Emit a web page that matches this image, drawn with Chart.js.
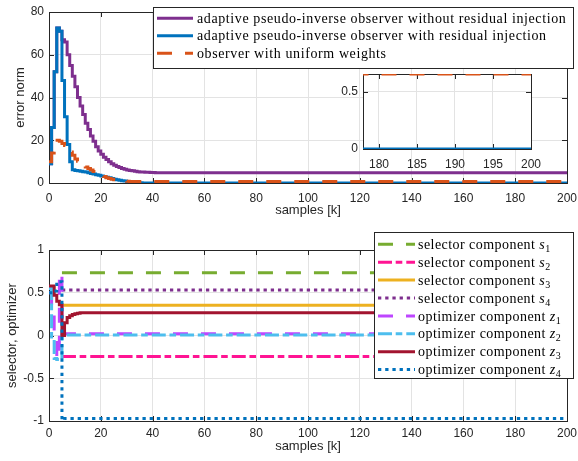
<!DOCTYPE html>
<html>
<head>
<meta charset="utf-8">
<script src="https://cdn.jsdelivr.net/npm/chart.js@4.4.0/dist/chart.umd.min.js"></script>
<style>
  body { margin: 0; background: #fff; }
  #wrap { position: relative; width: 578px; height: 461px; }
  canvas { position: absolute; }
</style>
</head>
<body>
<div id="wrap">
  <canvas id="errChart" width="578" height="230" style="left:0;top:0"></canvas>
  <canvas id="zoomChart" width="230" height="120" style="left:320px;top:60px"></canvas>
  <canvas id="selChart" width="578" height="231" style="left:0;top:230px"></canvas>
</div>
<script>
const kMax = 200;

// top plot: error norm per sample k (last value is held up to k = 200)
const topNames = [
  'adaptive pseudo-inverse observer without residual injection',
  'adaptive pseudo-inverse observer with residual injection',
  'observer with uniform weights'
];
const errNoInjection = [9, 26, 52, 72.5, 71, 67, 66, 60, 55, 50, 45, 40, 36, 32, 28, 25, 22, 19.5, 17, 15,
  13.5, 12, 11, 10, 9, 8.3, 7.7, 7.2, 6.8, 6.4, 6.1, 5.9, 5.7, 5.5, 5.3, 5.2, 5.1, 5.0, 5.0, 4.9, 4.9, 4.8];
const errInjection = [9, 26, 52, 72.5, 71, 48, 31, 18, 10, 6.2, 5.9, 5.7, 5.5, 5.3, 5.1, 4.8, 4.5, 4.2, 3.9, 3.6,
  3.3, 3.0, 2.7, 2.4, 2.1, 1.8, 1.5, 1.3, 1.1, 0.9, 0.7, 0.55, 0.4, 0.3, 0.2, 0.1, 0.05, 0];
const errUniform = [10, 14, 20, 20, 19.5, 18.5, 17.5, 16, 14.5, 13, 11.2, 10.2, 9.2, 8.3, 7.5, 6.8, 6.1, 5.4, 4.8, 4.2,
  3.6, 3.0, 2.5, 2.1, 1.8, 1.5, 1.3, 1.1, 0.95, 0.85, 0.78, 0.72, 0.68, 0.655];

// bottom plot: selector and optimizer components
const botNames = ['selector component', 'selector component', 'selector component', 'selector component',
  'optimizer component', 'optimizer component', 'optimizer component', 'optimizer component'];
const botSymbols = ['s', 's', 's', 's', 'z', 'z', 'z', 'z'];
const botSubs = ['1', '2', '3', '4', '1', '2', '3', '4'];
const s1 = [null, null, null, null, null, 0.735];
const s2 = [null, null, null, null, null, -0.245];
const s3 = [null, null, null, null, null, 0.353];
const s4 = [null, null, null, null, null, 0.532];
const z1 = [0.5, 0.3, -0.05, -0.27, 0.73, 0.02];
const z2 = [0.55, -0.05, -0.27, -0.28, -0.28, 0.005];
const z3 = [0.58, 0.58, 0.47, 0.4, 0.36, 0.0, 0.15, 0.21, 0.23, 0.245, 0.255, 0.26, 0.265, 0.267];
const z4 = [0.5, 0.5, 0.52, 0.6, 0.63, -0.99, -0.97];

const ink = '#262626';
const gridCol = '#E3E3E3';
const tickFont = { family: 'Liberation Sans', size: 12 };
const titleFont = { family: 'Liberation Sans', size: 13 };
const dashed = [15, 13];
const dashDot = [14, 3.7, 6.6, 4];
const dotted = [3.3, 3.9];

function toPoints(vals) {
  const pts = [];
  vals.forEach((v, k) => { if (v !== null) pts.push({ x: k, y: v }); });
  pts.push({ x: kMax, y: vals[vals.length - 1] });
  return pts;
}

function series(label, vals, color, dash, order, sym, sub) {
  return {
    label, data: toPoints(vals), borderColor: color, borderDash: dash, borderWidth: 3,
    stepped: true, pointRadius: 0, fill: false, borderCapStyle: 'butt', order, sym, sub
  };
}

// box round the plot area with inward ticks on all four sides
const frame = {
  id: 'frame',
  beforeDatasetsDraw(chart) {
    const { ctx, chartArea: a, scales: { x, y } } = chart;
    ctx.save();
    ctx.strokeStyle = ink;
    ctx.lineWidth = 1;
    ctx.beginPath();
    x.ticks.forEach(t => {
      const px = Math.round(x.getPixelForValue(t.value)) + 0.5;
      ctx.moveTo(px, a.bottom); ctx.lineTo(px, a.bottom - 5);
      ctx.moveTo(px, a.top); ctx.lineTo(px, a.top + 5);
    });
    y.ticks.forEach(t => {
      const py = Math.round(y.getPixelForValue(t.value)) + 0.5;
      ctx.moveTo(a.left, py); ctx.lineTo(a.left + 5, py);
      ctx.moveTo(a.right, py); ctx.lineTo(a.right - 5, py);
    });
    ctx.stroke();
    ctx.strokeRect(Math.round(a.left) + 0.5, Math.round(a.top) + 0.5, Math.round(a.width), Math.round(a.height));
    ctx.restore();
  }
};

const whiteArea = {
  id: 'whiteArea',
  beforeDraw(chart) {
    const { ctx, chartArea: a } = chart;
    ctx.save();
    ctx.fillStyle = '#fff';
    ctx.fillRect(a.left, a.top, a.width, a.height);
    ctx.restore();
  }
};

const lineLegend = {
  id: 'lineLegend',
  afterDraw(chart, args, o) {
    if (!o.w) return;
    const ctx = chart.ctx;
    ctx.save();
    ctx.fillStyle = '#fff';
    ctx.fillRect(o.x, o.y, o.w, o.h);
    ctx.strokeStyle = ink;
    ctx.lineWidth = 1;
    ctx.strokeRect(o.x + 0.5, o.y + 0.5, o.w, o.h);
    chart.data.datasets.forEach((ds, i) => {
      const y = o.y + o.first + i * o.step;
      ctx.setLineDash(ds.borderDash);
      ctx.lineCap = 'butt';
      ctx.lineWidth = ds.borderWidth;
      ctx.strokeStyle = ds.borderColor;
      ctx.beginPath();
      ctx.moveTo(o.x0, y); ctx.lineTo(o.x1, y);
      ctx.stroke();
      ctx.setLineDash([]);
      ctx.fillStyle = '#000';
      ctx.textBaseline = 'middle';
      ctx.letterSpacing = o.spacing;
      ctx.font = '14px "Liberation Serif"';
      ctx.fillText(ds.label, o.tx, y + 1);
      if (ds.sym) {
        let tx = o.tx + ctx.measureText(ds.label + ' ').width;
        ctx.letterSpacing = '0px';
        ctx.font = 'italic 14px "Liberation Serif"';
        ctx.fillText(ds.sym, tx, y + 1);
        tx += ctx.measureText(ds.sym).width + 0.5;
        ctx.font = '10px "Liberation Serif"';
        ctx.fillText(ds.sub, tx, y + 5);
      }
    });
    ctx.restore();
  }
};

function axisX(min, max, step, height, tickPad, title, titlePad) {
  return {
    type: 'linear', min, max,
    ticks: { stepSize: step, padding: tickPad, maxRotation: 0, includeBounds: false, font: tickFont, color: ink,
      callback: v => String(v) },
    grid: { color: gridCol, drawTicks: false },
    border: { display: false },
    title: { display: !!title, text: title, font: titleFont, color: ink, padding: { top: 0, bottom: titlePad } },
    afterFit: s => { s.height = height; s.paddingLeft = 0; s.paddingRight = 0; }
  };
}

function axisY(min, max, step, width, title, titlePad) {
  return {
    type: 'linear', min, max,
    ticks: { stepSize: step, padding: 5, includeBounds: false, font: tickFont, color: ink,
      callback: v => String(v) },
    grid: { color: gridCol, drawTicks: false },
    border: { display: false },
    title: { display: !!title, text: title, font: titleFont, color: ink, padding: { top: titlePad, bottom: 0 } },
    afterFit: s => { s.width = width; s.paddingTop = 0; s.paddingBottom = 0; }
  };
}

function topSets() {
  return [
    series(topNames[0], errNoInjection, '#7E2F8E', [], 3),
    series(topNames[1], errInjection, '#0072BD', [], 2),
    series(topNames[2], errUniform, '#D95319', dashed, 1)
  ];
}

new Chart(document.getElementById('errChart'), {
  type: 'line',
  data: { datasets: topSets() },
  options: {
    responsive: false, animation: false,
    layout: { padding: { left: 0, right: 11, top: 12, bottom: 0 } },
    scales: {
      x: axisX(0, kMax, 20, 47, 8, 'samples [k]', 12),
      y: axisY(0, 80, 20, 49, 'error norm', 13)
    },
    plugins: {
      legend: { display: false }, tooltip: { enabled: false },
      lineLegend: { x: 153, y: 7, w: 420, h: 61, first: 11.3, step: 17.5, x0: 157, x1: 193, tx: 197, spacing: '0.6px' }
    }
  },
  plugins: [frame, lineLegend]
});

new Chart(document.getElementById('zoomChart'), {
  type: 'line',
  data: { datasets: topSets() },
  options: {
    responsive: false, animation: false,
    layout: { padding: { left: 0, right: 19, top: 14, bottom: 0 } },
    scales: {
      x: axisX(177.9, kMax, 5, 31, 8, '', 0),
      y: axisY(0, 0.655, 0.5, 43, '', 0)
    },
    plugins: { legend: { display: false }, tooltip: { enabled: false } }
  },
  plugins: [whiteArea, frame]
});

const botColors = ['#77AC30', '#FF1493', '#EDB120', '#7E2F8E', '#BE46FF', '#4DBEEE', '#A2142F', '#0072BD'];
const botDashes = [dashed, dashDot, [], dotted, dashed, dashDot, [], dotted];
const botVals = [s1, s2, s3, s4, z1, z2, z3, z4];

new Chart(document.getElementById('selChart'), {
  type: 'line',
  data: {
    datasets: botVals.map((v, i) => series(botNames[i], v, botColors[i], botDashes[i], 8 - i, botSymbols[i], botSubs[i]))
  },
  options: {
    responsive: false, animation: false,
    layout: { padding: { left: 0, right: 11, top: 20, bottom: 0 } },
    scales: {
      x: axisX(0, kMax, 20, 40, 5, 'samples [k]', 7),
      y: axisY(-1, 1, 0.5, 49, 'selector, optimizer', 5)
    },
    plugins: {
      legend: { display: false }, tooltip: { enabled: false },
      lineLegend: { x: 374, y: 2, w: 199, h: 146, first: 12.3, step: 17.9, x0: 378, x1: 415, tx: 418, spacing: '0.45px' }
    }
  },
  plugins: [frame, lineLegend]
});
</script>
</body>
</html>
